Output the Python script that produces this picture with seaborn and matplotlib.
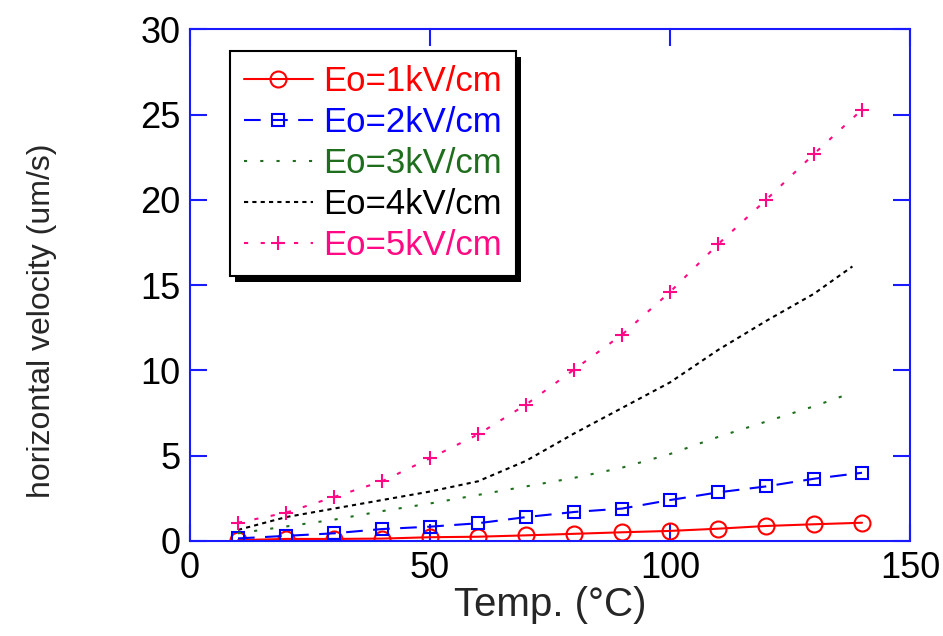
import matplotlib
matplotlib.use("Agg")
import matplotlib.pyplot as plt
import matplotlib.patheffects as pe
import seaborn as sns
import pandas as pd

temp = [10, 20, 30, 40, 50, 60, 70, 80, 90, 100, 110, 120, 130, 140]
temp_curve = [10, 20, 30, 40, 50, 60, 70, 80, 90, 100, 110, 120, 130, 138]
v1 = [0.05, 0.12, 0.12, 0.14, 0.22, 0.25, 0.33, 0.42, 0.51, 0.59, 0.72, 0.88, 0.98, 1.07]
v2 = [0.15, 0.3, 0.45, 0.7, 0.84, 1.04, 1.4, 1.7, 1.9, 2.4, 2.85, 3.2, 3.65, 4.0]
v3 = [0.45, 0.85, 1.25, 1.75, 2.2, 2.7, 3.2, 3.7, 4.3, 5.1, 6.1, 7.0, 7.9, 8.7]
v4 = [0.65, 1.4, 1.9, 2.4, 2.9, 3.5, 4.7, 6.3, 7.8, 9.3, 11.2, 12.9, 14.5, 16.1]
v5 = [1.07, 1.66, 2.58, 3.5, 4.85, 6.25, 8.0, 10.05, 12.1, 14.6, 17.4, 20.0, 22.7, 25.3]
labels = ["Eo=1kV/cm", "Eo=2kV/cm", "Eo=3kV/cm", "Eo=4kV/cm", "Eo=5kV/cm"]

sns.set_style("ticks")
plt.rcParams['font.family'] = ['Liberation Sans', 'DejaVu Sans']

fig = plt.figure(figsize=(9.43, 6.36), dpi=100)
ax = fig.add_axes([0.2015, 0.1494, 0.7635, 0.8043])

spine_c = "#1a1aff"
series = [
    (temp, v1, "#ff0000", "-", "o", 11.5),
    (temp, v2, "#0000ff", (0, (8, 5)), "s", 9),
    (temp_curve, v3, "#1e6e1e", (0, (1.5, 6.3)), None, 0),
    (temp_curve, v4, "#000000", (0, (2, 2)), None, 0),
    (temp, v5, "#ff0a84", (0, (2, 6)), "+", 10),
]
for lab, (x, y, c, ls, mk, ms) in zip(labels, series):
    df = pd.DataFrame({"T": x, "v": y})
    sns.lineplot(data=df, x="T", y="v", ax=ax, label=lab, color=c, linewidth=1.5)
    line = ax.lines[-1]
    line.set_linestyle(ls)
    if mk is not None:
        line.set_marker(mk)
        line.set_markersize(ms)
        line.set_markerfacecolor("none")
        line.set_markeredgecolor(c)
        line.set_markeredgewidth(1.5)

ax.set_xlim(0, 150)
ax.set_ylim(0, 30)
ax.set_xticks([0, 50, 100, 150])
ax.set_yticks([0, 5, 10, 15, 20, 25, 30])
for s in ax.spines.values():
    s.set_visible(True)
    s.set_color(spine_c)
    s.set_linewidth(1.5)
ax.tick_params(direction="in", length=12, width=1.5, color=spine_c,
               top=True, right=True, labelsize=26, pad=7, labelcolor="black")
ax.set_xlabel("Temp. (°C)", fontsize=29, labelpad=0)
ax.set_ylabel("horizontal velocity (um/s)", fontsize=23)
ax.yaxis.set_label_coords(-0.185, 0.43)

leg = ax.legend(loc="upper left", bbox_to_anchor=(0.055, 0.957), borderaxespad=0,
                fontsize=25, frameon=True, fancybox=False, shadow=False,
                edgecolor="black", handlelength=2.0, handletextpad=0.3,
                labelspacing=0.23, borderpad=0.4, labelcolor="linecolor")
frame = leg.get_frame()
frame.set_linewidth(1.5)
frame.set_alpha(1)
frame.set_path_effects([pe.SimplePatchShadow(offset=(4, -4), shadow_rgbFace="black", alpha=1),
                        pe.Normal()])

fig.savefig("out.png", dpi=100)
